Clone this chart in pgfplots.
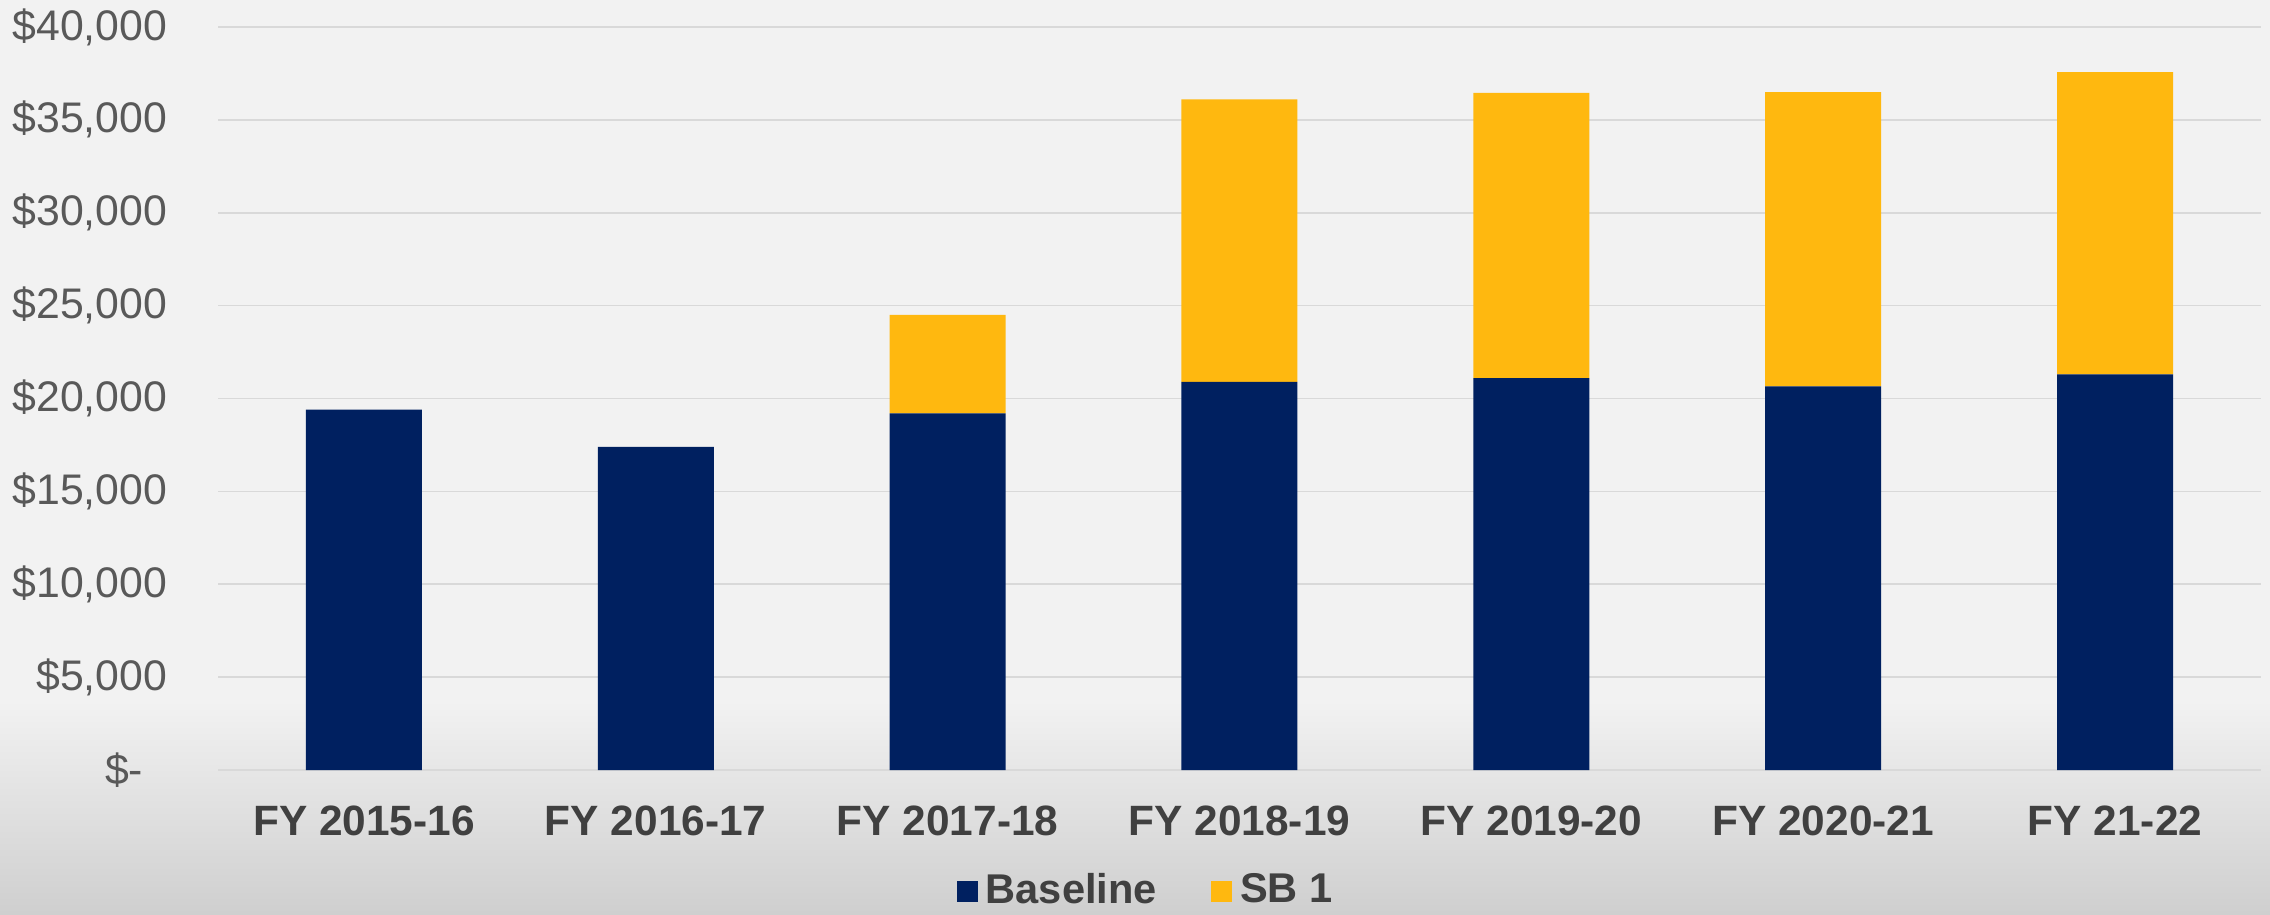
\documentclass[border=0pt]{standalone}
\usepackage{pgfplots}
\pgfplotsset{compat=1.18}
\usepackage{fontspec}
\setmainfont{Liberation Sans}
\definecolor{navy}{HTML}{002060}
\definecolor{gold}{HTML}{FFB80F}
\definecolor{bgc}{HTML}{F2F2F2}
\definecolor{bgbot}{HTML}{CFCFCF}
\definecolor{gridc}{HTML}{D9D9D9}
\definecolor{ticktxt}{HTML}{595959}
\definecolor{labtxt}{HTML}{404040}
\begin{document}
\begin{tikzpicture}
\useasboundingbox (0,0) rectangle (567.5pt,228.5pt);
\fill[bgc] (0,0) rectangle (567.5pt,228.5pt);
\shade[top color=bgc, bottom color=bgbot] (0,0) rectangle (567.5pt,53.5pt);
\begin{axis}[
  at={(54.5pt,36pt)}, anchor=south west,
  scale only axis, width=510.75pt, height=185.75pt,
  ybar stacked, bar width=29pt,
  xmin=-0.5, xmax=6.5, ymin=0, ymax=40000,
  scaled y ticks=false,
  xtick={0,1,2,3,4,5,6},
  xticklabels={FY 2015-16,FY 2016-17,FY 2017-18,FY 2018-19,FY 2019-20,FY 2020-21,FY 21-22},
  ytick={0,5000,10000,15000,20000,25000,30000,35000,40000},
  yticklabels={{\$-\rule{6pt}{0pt}},{\$5,000},{\$10,000},{\$15,000},{\$20,000},{\$25,000},{\$30,000},{\$35,000},{\$40,000}},
  axis line style={draw=none}, tick style={draw=none},
  ymajorgrids, grid style={gridc, line width=0.4pt},
  axis background/.style={fill=none},
  yticklabel style={anchor=east, inner sep=0pt, xshift=-12.5pt, text=ticktxt, font=\fontsize{10.7}{12.8}\selectfont},
  xticklabel style={anchor=north, inner sep=0pt, yshift=-8.75pt, text=labtxt, font=\fontsize{10.6}{12.8}\selectfont\bfseries},
  legend style={at={(0.4555,-0.163)}, anchor=center, draw=none, fill=none,
    legend columns=2, font=\fontsize{10.4}{12.5}\selectfont\bfseries, text=labtxt,
    inner sep=0pt, /tikz/every even column/.append style={column sep=11.5pt}},
  legend image code/.code={\fill[#1] (0pt,-2.65pt) rectangle (5.3pt,2.65pt);},
]
\addplot[fill=navy, draw=none] coordinates {(0,19400) (1,17400) (2,19200) (3,20900) (4,21100) (5,20650) (6,21300)};
\addlegendentry{Baseline}
\addplot[fill=gold, draw=none] coordinates {(0,0) (1,0) (2,5300) (3,15200) (4,15350) (5,15850) (6,16270)};
\addlegendentry{SB 1}
\end{axis}
\end{tikzpicture}
\end{document}
